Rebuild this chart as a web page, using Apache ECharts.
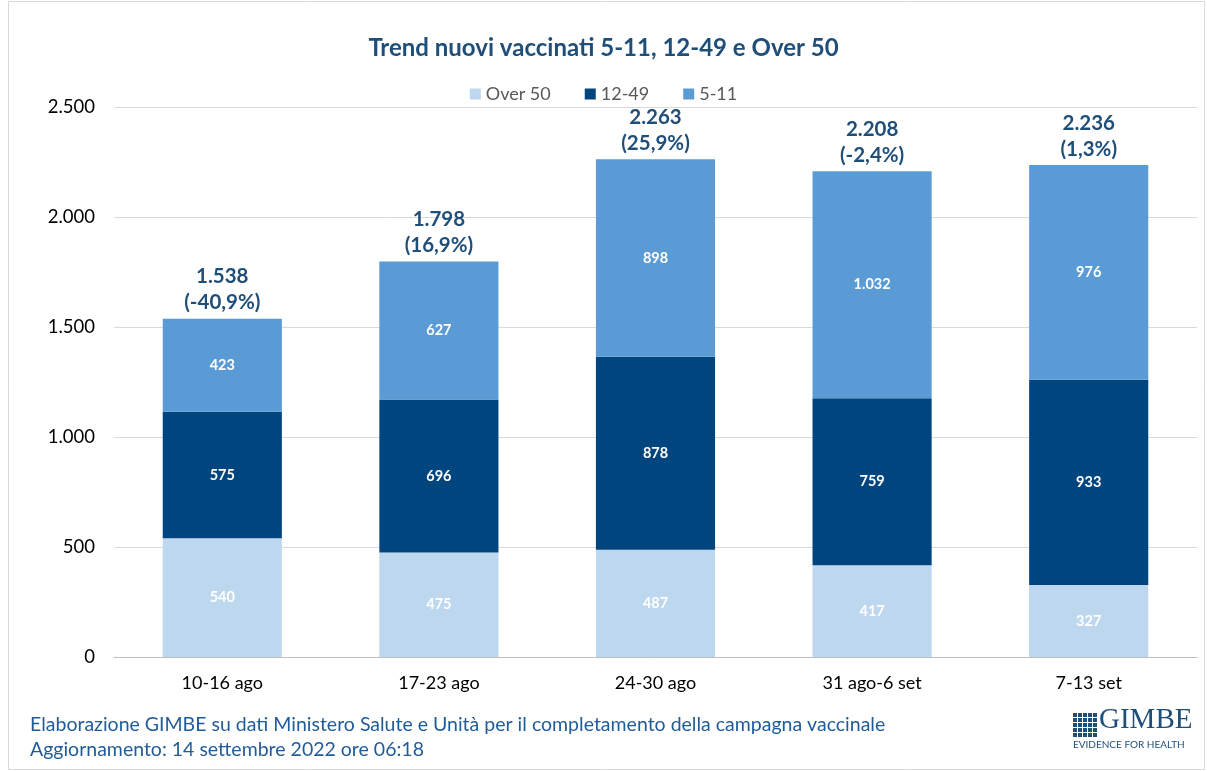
<!DOCTYPE html>
<html><head><meta charset="utf-8">
<script src="https://cdn.jsdelivr.net/npm/echarts@6/dist/echarts.min.js"></script>
<style>html,body{margin:0;padding:0;background:#fff}#c{width:1207px;height:771px}</style>
</head><body><div id="c"></div>
<script>
const categories = ['10-16 ago','17-23 ago','24-30 ago','31 ago-6 set','7-13 set'];
const over50 = [540, 475, 487, 417, 327];
const age1249 = [575, 696, 878, 759, 933];
const age511 = [423, 627, 898, 1032, 976];
const totals = [1538, 1798, 2263, 2208, 2236];
const changes = ['-40,9%', '16,9%', '25,9%', '-2,4%', '1,3%'];
const yTicks = [0, 500, 1000, 1500, 2000, 2500];

const fmt = v => String(v).replace(/\B(?=(\d{3})+(?!\d))/g, '.');
const FONT = 'Lato, "Noto Sans", sans-serif';
const dark = '#1f4e79';

const chart = echarts.init(document.getElementById('c'), null, {renderer: 'canvas'});
const inLabel = {show: true, color: '#fff', fontWeight: 'bold', fontSize: 14.5, fontFamily: FONT, formatter: p => fmt(p.value)};

const logoRects = [];
for (let r = 0; r < 5; r++) for (let c = 0; c < 5; c++) {
  logoRects.push({type: 'rect', shape: {x: 1073 + c * 5, y: 713 + r * 5, width: 4, height: 4}, style: {fill: dark}});
}

chart.setOption({
  backgroundColor: '#fff',
  animation: false,
  title: {text: 'Trend nuovi vaccinati 5-11, 12-49 e Over 50', left: 'center', top: 31,
    textStyle: {color: dark, fontSize: 24, fontWeight: 'bold', fontFamily: FONT}},
  legend: {top: 80, left: 'center', icon: 'rect', itemWidth: 11, itemHeight: 11, itemGap: 34,
    data: ['Over 50', '12-49', '5-11'],
    textStyle: {color: '#595959', fontSize: 18, fontFamily: FONT}},
  grid: {left: 114, right: 10, top: 107, bottom: 114},
  xAxis: {type: 'category', data: categories,
    axisLine: {lineStyle: {color: '#bfbfbf'}}, axisTick: {show: false},
    axisLabel: {color: '#000', fontSize: 18, fontFamily: FONT, margin: 17}},
  yAxis: {type: 'value', min: yTicks[0], max: yTicks[yTicks.length - 1], interval: 500,
    axisLine: {show: false}, axisTick: {show: false},
    splitLine: {lineStyle: {color: '#d9d9d9'}},
    axisLabel: {color: '#000', fontSize: 18.5, fontFamily: FONT, margin: 19, formatter: v => fmt(v)}},
  series: [
    {name: 'Over 50', type: 'bar', stack: 't', data: over50, barWidth: '55%', itemStyle: {color: '#bdd7ee'}, label: inLabel},
    {name: '12-49', type: 'bar', stack: 't', data: age1249, itemStyle: {color: '#00457e'}, label: inLabel},
    {name: '5-11', type: 'bar', stack: 't', data: age511, itemStyle: {color: '#5b9bd5'}, label: inLabel},
    {name: 'tot', type: 'bar', stack: 't', data: totals.map(() => 0), itemStyle: {color: 'transparent'},
      label: {show: true, position: 'top', distance: 3, color: dark, fontWeight: 'bold', fontSize: 20.5, lineHeight: 26, fontFamily: FONT,
        formatter: p => fmt(totals[p.dataIndex]) + '\n(' + changes[p.dataIndex] + ')'}}
  ],
  graphic: [
    {type: 'rect', shape: {x: 8.5, y: 1.5, width: 1196, height: 768}, style: {fill: 'none', stroke: '#d9d9d9', lineWidth: 1}},
    {type: 'text', left: 30, top: 715, style: {text: 'Elaborazione GIMBE su dati Ministero Salute e Unità per il completamento della campagna vaccinale', fill: '#1f5c99', fontSize: 19.5, fontFamily: FONT}},
    {type: 'text', left: 30, top: 740, style: {text: 'Aggiornamento: 14 settembre 2022 ore 06:18', fill: '#1f5c99', fontSize: 19.5, fontFamily: FONT}},
    {type: 'text', left: 1099, top: 706, style: {text: 'GIMBE', fill: dark, fontSize: 29, fontFamily: '"Liberation Serif", "DejaVu Serif", serif'}},
    {type: 'text', left: 1073, top: 740, style: {text: 'EVIDENCE FOR HEALTH', fill: dark, fontSize: 10, fontFamily: FONT}},
    ...logoRects
  ]
});
</script></body></html>
